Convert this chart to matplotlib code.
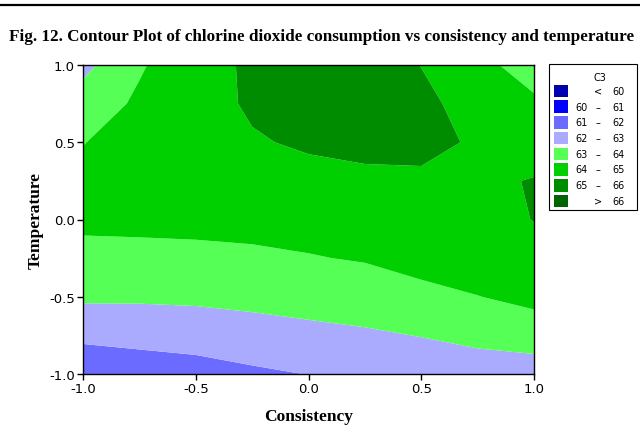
import numpy as np
import matplotlib
matplotlib.use("Agg")
import matplotlib.pyplot as plt
from matplotlib.patches import Rectangle

# ---- data ----
consistency = [-1.0, -0.75, -0.5, -0.25, 0.0, 0.25, 0.5, 0.75, 1.0]
temperature = [-1.0, -0.75, -0.5, -0.25, 0.0, 0.25, 0.5, 0.75, 1.0]
# C3 values, rows = temperature (bottom to top), cols = consistency (left to right)
c3 = [
    [61.09, 61.46, 61.61, 61.84, 62.02, 62.22, 62.40, 62.57, 62.47],
    [62.26, 62.31, 62.40, 62.56, 62.71, 62.87, 63.03, 63.22, 63.49],
    [63.15, 63.15, 63.19, 63.29, 63.43, 63.49, 63.70, 63.98, 64.25],
    [63.83, 63.79, 63.80, 63.86, 63.95, 64.07, 64.38, 64.50, 64.75],
    [64.12, 64.18, 64.22, 64.25, 64.35, 64.45, 64.58, 64.72, 65.02],
    [64.17, 64.30, 64.45, 64.55, 64.73, 64.86, 64.90, 64.90, 65.03],
    [63.98, 64.28, 64.58, 64.92, 65.12, 65.18, 65.16, 64.93, 64.73],
    [63.48, 64.15, 64.64, 65.12, 65.24, 65.24, 65.12, 64.80, 64.21],
    [62.72, 63.90, 64.63, 65.15, 65.39, 65.33, 64.99, 64.36, 63.43],
]
levels = [60, 61, 62, 63, 64, 65, 66]
colors = ["#0000B0", "#0000FF", "#6B6BFF", "#AAAAFF",
          "#55FF55", "#00D000", "#008C00", "#006400"]
ticks = [-1.0, -0.5, 0.0, 0.5, 1.0]
title = "Fig. 12. Contour Plot of chlorine dioxide consumption vs consistency and temperature"

W, H = 640, 435
fig = plt.figure(figsize=(W / 100, H / 100), dpi=100)

# main axes (pixel box: x 83..534, y 66..375)
ax = fig.add_axes([83 / W, 1 - 375 / H, (534 - 83) / W, (375 - 66) / H])
X, Y = np.meshgrid(consistency, temperature)
Z = np.array(c3)
fill_levels = [Z.min() - 10] + levels + [Z.max() + 10]
ax.contourf(X, Y, Z, levels=fill_levels, colors=colors, antialiased=True)
ax.set_xlim(-1, 1)
ax.set_ylim(-1, 1)
ax.set_xticks(ticks)
ax.set_yticks(ticks)
ax.set_xticklabels([f"{t:.1f}" for t in ticks])
ax.set_yticklabels([f"{t:.1f}" for t in ticks])
ax.tick_params(direction="out", length=4, width=1, labelsize=9.5, colors="black", pad=2)
for s in ax.spines.values():
    s.set_linewidth(1.0)
    s.set_color("black")
ax.set_xlabel("Consistency", fontsize=12.5, fontweight="bold",
              family="Liberation Serif", labelpad=9)
ax.set_ylabel("Temperature", fontsize=12.5, fontweight="bold",
              family="Liberation Serif", labelpad=4)

# overlay axes in pixel coordinates for title line and legend
ov = fig.add_axes([0, 0, 1, 1], zorder=5)
ov.set_xlim(0, W)
ov.set_ylim(H, 0)
ov.axis("off")
ov.patch.set_alpha(0)

ov.plot([0, W], [6, 6], color="black", lw=1.6, solid_capstyle="butt")
ov.text(322, 37, title, ha="center", va="center", fontsize=12.3,
        fontweight="bold", family="Liberation Serif")

# legend
ov.add_patch(Rectangle((549, 65), 88, 146, facecolor="white",
                       edgecolor="black", lw=0.8))
ov.text(600, 78, "C3", ha="center", va="center", fontsize=7)
row_y0, row_dy = 92, 15.7
labels = ([("<", None, levels[0])] +
          [(levels[i], "\u2013", levels[i + 1]) for i in range(len(levels) - 1)] +
          [(">", None, levels[-1])])
for i, (col, lab) in enumerate(zip(colors, labels)):
    yc = row_y0 + i * row_dy
    ov.add_patch(Rectangle((554, yc - 6.3), 14, 12.6, facecolor=col,
                           edgecolor="none"))
    a, dash, b = lab
    if dash is None:
        ov.text(598.5, yc, a, ha="center", va="center", fontsize=7)
    else:
        ov.text(588, yc, str(a), ha="right", va="center", fontsize=7)
        ov.text(598, yc, dash, ha="center", va="center", fontsize=7)
    ov.text(625, yc, str(b), ha="right", va="center", fontsize=7)

fig.savefig("out.png", dpi=100)
